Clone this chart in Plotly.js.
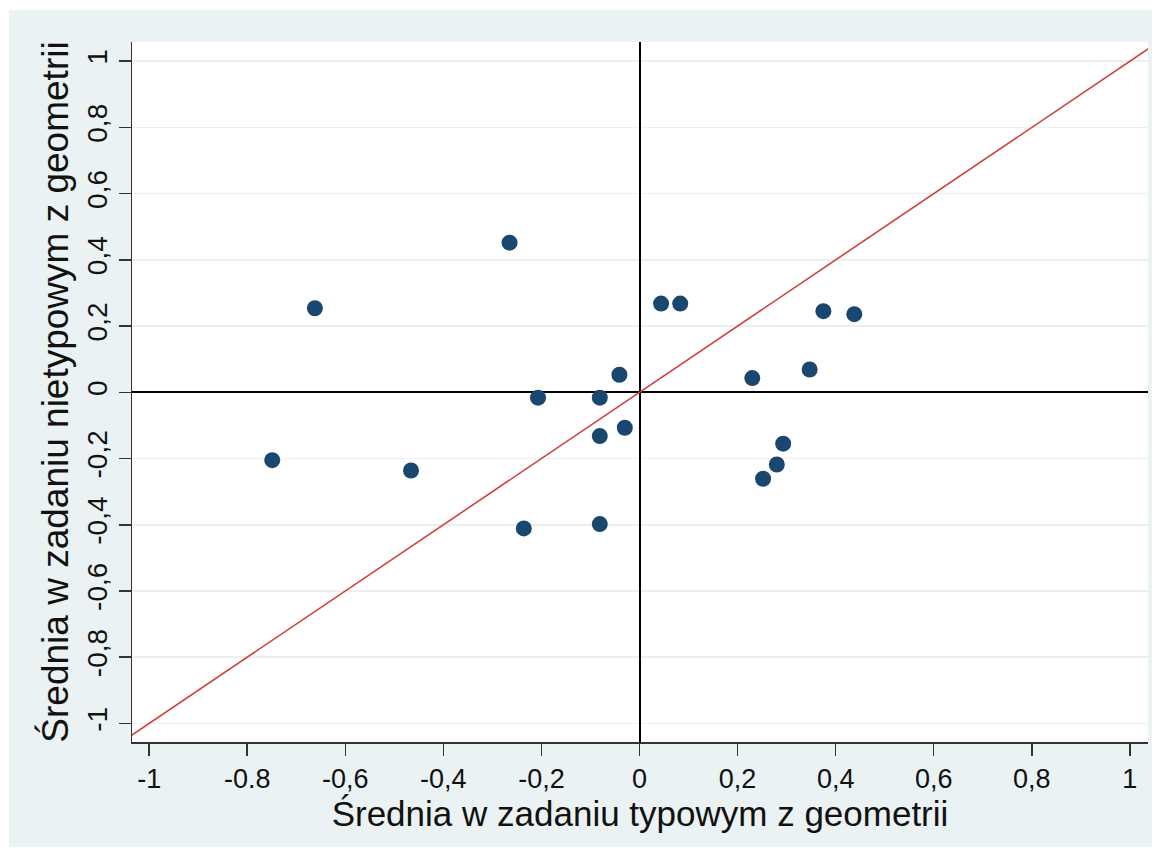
<!DOCTYPE html>
<html>
<head>
<meta charset="utf-8">
<script src="https://cdn.plot.ly/plotly-3.0.1.min.js"></script>
<style>
  html, body { margin: 0; padding: 0; background: #ffffff; }
  #chart { position: absolute; left: 9px; top: 10px; width: 1143px; height: 837px; }
</style>
</head>
<body>
<div id="chart"></div>
<script>
// Data
const typowe = [-0.749, -0.662, -0.466, -0.265, -0.236, -0.207, -0.081, -0.081, -0.081, -0.041,
                -0.030, 0.044, 0.083, 0.230, 0.252, 0.280, 0.293, 0.347, 0.375, 0.438];
const nietypowe = [-0.205, 0.254, -0.236, 0.452, -0.411, -0.016, -0.016, -0.132, -0.398, 0.053,
                   -0.107, 0.268, 0.268, 0.043, -0.261, -0.218, -0.155, 0.069, 0.245, 0.236];
const lineX = [-1.06, 1.06];
const lineY = [-1.06, 1.06];
const xTickVals = [-1, -0.8, -0.6, -0.4, -0.2, 0, 0.2, 0.4, 0.6, 0.8, 1];
const xTickText = ['-1', '-0.8', '-0,6', '-0,4', '-0,2', '0', '0,2', '0,4', '0,6', '0,8', '1'];
const yTickVals = [-1, -0.8, -0.6, -0.4, -0.2, 0, 0.2, 0.4, 0.6, 0.8, 1];
const yTickText = ['-1', '-0,8', '-0,6', '-0,4', '-0,2', '0', '0,2', '0,4', '0,6', '0,8', '1'];
const xTitle = 'Średnia w zadaniu typowym z geometrii';
const yTitle = 'Średnia w zadaniu nietypowym z geometrii';

const traces = [
  {
    x: lineX, y: lineY, type: 'scatter', mode: 'lines',
    line: { color: '#d0413e', width: 1.6 },
    hoverinfo: 'skip', showlegend: false
  },
  {
    x: typowe, y: nietypowe, type: 'scatter', mode: 'markers',
    marker: { color: '#1a476f', size: 16, line: { width: 0 } },
    showlegend: false
  }
];

const fontFam = '"Liberation Sans", Arial, sans-serif';
const layout = {
  width: 1143, height: 837,
  paper_bgcolor: '#eaf2f3',
  plot_bgcolor: '#ffffff',
  margin: { l: 123, r: 4, t: 32, b: 105 },
  font: { family: fontFam, color: '#111111' },
  xaxis: {
    range: [-1.035, 1.037],
    tickmode: 'array', tickvals: xTickVals, ticktext: xTickText,
    ticks: 'outside', ticklen: 12, tickwidth: 1.5, tickcolor: '#333333',
    tickfont: { size: 27, family: fontFam, color: '#111111' },
    showgrid: false,
    showline: true, linecolor: '#333333', linewidth: 1.5,
    zeroline: true, zerolinecolor: '#000000', zerolinewidth: 2,
    title: { text: xTitle, font: { size: 35, family: fontFam, color: '#111111' }, standoff: 2 },
    fixedrange: true
  },
  yaxis: {
    range: [-1.056, 1.058],
    tickmode: 'array', tickvals: yTickVals, ticktext: yTickText,
    tickangle: -90,
    ticks: 'outside', ticklen: 12, tickwidth: 1.5, tickcolor: '#333333',
    tickfont: { size: 28, family: fontFam, color: '#111111' },
    showgrid: true, gridcolor: '#eceff0', gridwidth: 1.5,
    showline: true, linecolor: '#333333', linewidth: 1.5,
    zeroline: true, zerolinecolor: '#000000', zerolinewidth: 2,
    title: { text: yTitle, font: { size: 37, family: fontFam, color: '#111111' }, standoff: 2 },
    fixedrange: true
  }
};

Plotly.newPlot('chart', traces, layout, { displayModeBar: false, staticPlot: true });
</script>
</body>
</html>
